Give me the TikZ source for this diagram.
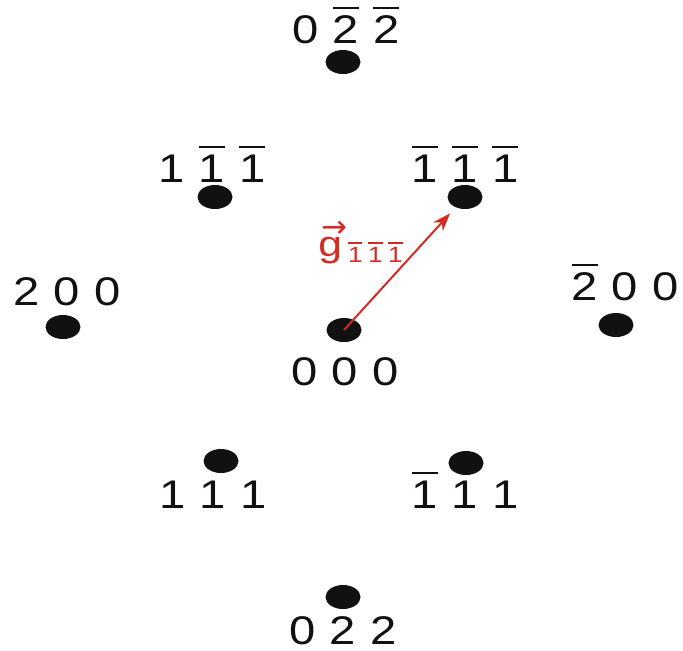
\documentclass[tikz,border=0pt]{standalone}
\usepackage{fontspec}
\setmainfont{Liberation Sans}[FakeStretch=1.18]
\newfontfamily\arrowfont{DejaVu Sans}
\usepackage{calc}
\usetikzlibrary{arrows.meta, positioning, shapes.geometric}
\definecolor{spotblack}{HTML}{111111}
\definecolor{vecred}{HTML}{D22B26}
\newcommand{\nb}[1]{\rlap{\rule[0.84em]{\widthof{#1}}{0.065em}}#1}
\newcommand{\idx}[3]{#1\hspace{7pt}#2\hspace{7pt}#3}
\newcommand{\spot}[4]{%
  \node[ellipse, fill=spotblack, minimum width=17.5pt, minimum height=12pt,
        inner sep=0pt] (#1) at (#2) {};
  \node[anchor=base, inner sep=0pt, text=spotblack,
        font=\fontsize{20}{24}\selectfont] (#1l) at (#3) {#4};}

\begin{document}
\begin{tikzpicture}[x=0.5pt, y=-0.5pt]
  \useasboundingbox (0,0) rectangle (683,650);
  \spot{p022b}{343,62}{346,43}{\idx{0}{\nb{2}}{\nb{2}}}
  \spot{p11b1b}{215,197}{212,182}{\idx{1}{\nb{1}}{\nb{1}}}
  \spot{p1b1b1b}{465,197}{465,182}{\idx{\nb{1}}{\nb{1}}{\nb{1}}}
  \spot{p200}{63,327}{67,305}{\idx{2}{0}{0}}
  \spot{p2b00}{616,325}{625,300}{\idx{\nb{2}}{0}{0}}
  \spot{p000}{344,330}{345,385}{\idx{0}{0}{0}}
  \spot{p111}{221,461}{213,508}{\idx{1}{1}{1}}
  \spot{p1b11}{466,463}{465,508}{\idx{\nb{1}}{1}{1}}
  \spot{p022}{343,597}{343,644}{\idx{0}{2}{2}}
  \draw[-{Stealth[length=9pt, width=6.5pt]}, vecred, line width=1pt,
        shorten >=4pt] (p000.center) -- (p1b1b1b);
  \node[anchor=base west, inner sep=0pt, text=vecred] (gvec) at (318,256)
    {{\fontsize{18}{22}\selectfont
      \rlap{\hspace{1.5pt}\raisebox{9.2pt}{\arrowfont\fontsize{15.5}{16}\selectfont →}}g}%
     \hspace{3pt}%
     \raisebox{-3pt}{\fontsize{11}{12}\selectfont
       \nb{1}\hspace{2.8pt}\nb{1}\hspace{2.8pt}\nb{1}}};
\end{tikzpicture}
\end{document}
